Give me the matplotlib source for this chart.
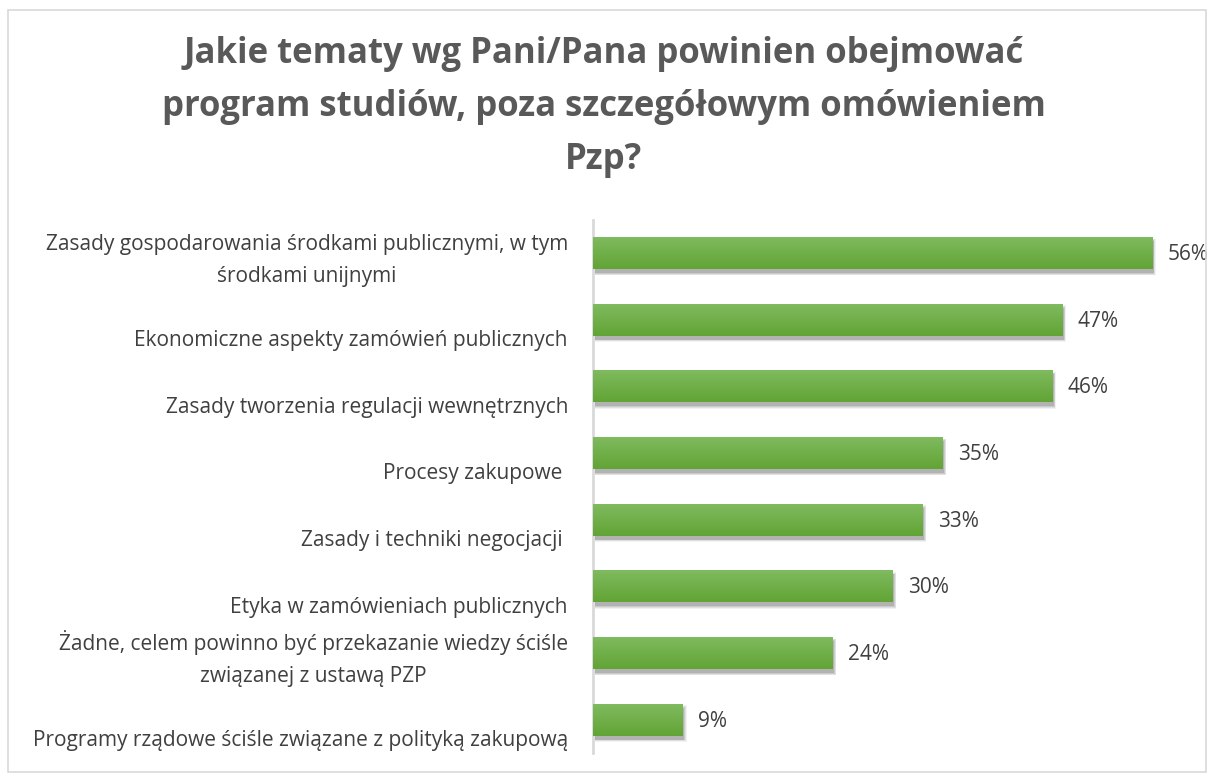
import matplotlib
matplotlib.use("Agg")
import matplotlib.pyplot as plt
import matplotlib.transforms as mtransforms
from matplotlib.patches import Rectangle
import numpy as np

plt.rcParams['font.family'] = ['Open Sans', 'DejaVu Sans']

title = "Jakie tematy wg Pani/Pana powinien obejmować\nprogram studiów, poza szczegółowym omówieniem\nPzp?"
categories = [
    "Zasady gospodarowania środkami publicznymi, w tym\nśrodkami unijnymi",
    "Ekonomiczne aspekty zamówień publicznych",
    "Zasady tworzenia regulacji wewnętrznych",
    "Procesy zakupowe ",
    "Zasady i techniki negocjacji ",
    "Etyka w zamówieniach publicznych",
    "Żadne, celem powinno być przekazanie wiedzy ściśle\nzwiązanej z ustawą PZP",
    "Programy rządowe ściśle związane z polityką zakupową",
]
values = [56, 47, 46, 35, 33, 30, 24, 9]

W, H = 1208, 773
fig = plt.figure(figsize=(W / 100, H / 100), dpi=100)
fig.patch.set_facecolor('white')

# outer border
fig.add_artist(Rectangle((8 / W, 1 - 772 / H), (1206 - 8) / W, (772 - 10) / H,
                         transform=fig.transFigure, fill=False,
                         edgecolor='#d9d9d9', linewidth=1.2))

ax = fig.add_axes([593 / W, 1 - 753 / H, (1192 - 593) / W, (753 - 219.6) / H])
n = len(categories)
y = np.arange(n)
ax.set_xlim(0, 60)
ax.set_ylim(n - 0.5, -0.5)
for s in ['top', 'right', 'bottom']:
    ax.spines[s].set_visible(False)
ax.spines['left'].set_color('#d9d9d9')
ax.spines['left'].set_linewidth(2)
ax.set_xticks([])
ax.set_yticks([])

bh = 0.48
top_c = np.array([0x80, 0xbb, 0x60]) / 255
bot_c = np.array([0x62, 0xa4, 0x35]) / 255
grad = np.linspace(0, 1, 64)[:, None]
img = top_c[None, None, :] * (1 - grad[..., None]) + bot_c[None, None, :] * grad[..., None]

# soft shadows
shadow_off = mtransforms.ScaledTranslation(1.5 / 100, -4 / 100, fig.dpi_scale_trans)
for yi, v in zip(y, values):
    for k, a in enumerate([0.05, 0.07, 0.09, 0.12]):
        grow = (3 - k) * 0.012
        r = Rectangle((0, yi - bh / 2 - grow), v + (3 - k) * 0.08, bh + 2 * grow,
                      facecolor='black', alpha=a, edgecolor='none',
                      transform=ax.transData + shadow_off, zorder=1)
        ax.add_patch(r)

bars = ax.barh(y, values, height=bh, color='#70ad47', edgecolor='none', zorder=2)
for b in bars:
    x0, y0 = b.get_x(), b.get_y()
    w, h = b.get_width(), b.get_height()
    im = ax.imshow(img, extent=(x0, x0 + w, y0 + h, y0), aspect='auto', zorder=3,
                   interpolation='bilinear')
    im.set_clip_path(b)

ax.set_xlim(0, 60)
ax.set_ylim(n - 0.5, -0.5)

# value labels
for yi, v in zip(y, values):
    ax.annotate(f"{v}%", (v, yi), xytext=(11, -1), textcoords='offset points',
                va='center', ha='left', fontsize=15, color='#404040')

# category labels (last line baseline below bar centre, like the original)
lab_trans = mtransforms.blended_transform_factory(fig.transFigure, ax.transData)
for i, (yi, c) in enumerate(zip(y, categories)):
    off_px = 29 if "\n" in c else 26.5
    off = mtransforms.ScaledTranslation(0, -off_px / 100, fig.dpi_scale_trans)
    fig.text(568 / W, yi, c, transform=lab_trans + off, ha='right', va='baseline',
             fontsize=15, color='#404040', multialignment='center', linespacing=1.7)

fig.text(604 / W, 1 - 107 / H, title, ha='center', va='center', fontsize=25,
         fontweight='bold', color='#595959', linespacing=1.62)

fig.savefig('out.png', dpi=100)
